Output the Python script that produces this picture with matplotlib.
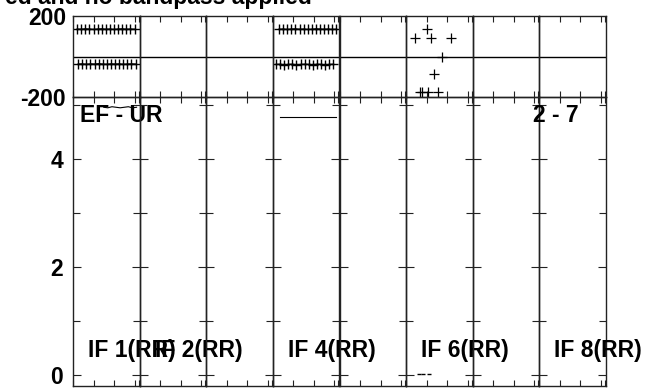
import matplotlib
matplotlib.use("Agg")
import matplotlib.pyplot as plt
from matplotlib.ticker import MultipleLocator

plt.rcParams['font.family'] = ['Liberation Sans', 'DejaVu Sans']
plt.rcParams['font.weight'] = 'bold'
plt.rcParams['axes.unicode_minus'] = False

W, H = 652, 389
n_if = 8
if_labels = ["IF 1(RR)", "IF 2(RR)", "", "IF 4(RR)", "", "IF 6(RR)", "", "IF 8(RR)"]

# phase data (degrees) per IF
ch_a = [4, 8, 12, 16, 20, 24, 28, 32, 36, 40, 44, 48, 52, 56, 60]
ch_b = [5, 9, 13, 17, 21, 25, 29, 33, 37, 41, 45, 49, 53, 57, 61]
ph_if1_top = [136, 135, 137, 136, 134, 136, 137, 135, 136, 134, 136, 137, 135, 136, 135]
ph_if1_bot = [-37, -36, -38, -36, -37, -35, -37, -38, -36, -37, -36, -38, -37, -36, -37]
ch_c = [6, 10, 14, 18, 22, 26, 30, 34, 38, 42, 46, 50, 54, 58, 62]
ch_d = [3, 7, 11, 15, 19, 23, 27, 31, 35, 39, 43, 47, 51, 55, 59]
ph_if4_top = [135, 136, 134, 136, 137, 135, 136, 134, 135, 137, 136, 135, 136, 134, 135]
ph_if4_bot = [-39, -38, -40, -39, -38, -40, -39, -38, -39, -40, -38, -39, -40, -39, -38]
ch_if6 = [20, 9, 24, 44, 35, 27, 14, 15, 21, 31]
ph_if6 = [138, 92, 92, 92, 0, -87, -176, -176, -176, -176]

# amplitude data
amp_if1_ch = [30, 34, 38, 42, 46, 50, 54, 58, 62]
amp_if1 = [4.96, 4.95, 4.97, 4.96, 4.95, 4.96, 4.97, 4.95, 4.96]
amp_if4_ch = [7, 14, 21, 28, 35, 42, 49, 56, 62]
amp_if4 = [4.78, 4.78, 4.78, 4.78, 4.78, 4.78, 4.78, 4.78, 4.78]
amp_if6_ch = [13, 16, 22]
amp_if6 = [0.02, 0.02, 0.02]

fig = plt.figure(figsize=(W / 100, H / 100), dpi=100)

left, right = 73, 606
pw = (right - left) / n_if
ph_top, ph_bot = 16, 97
am_top, am_bot = 97, 386
spine_col = '#222222'
fs = 16.5


def fx(px):
    return px / W


def fy(py):
    return 1 - py / H


for i in range(n_if):
    x0 = left + i * pw
    axp = fig.add_axes([fx(x0), fy(ph_bot), pw / W, (ph_bot - ph_top) / H])
    axa = fig.add_axes([fx(x0), fy(am_bot), pw / W, (am_bot - am_top) / H])
    for ax in (axp, axa):
        ax.patch.set_visible(False)
        ax.set_xlim(0, 65)
        ax.set_xticks([0, 20, 40, 60, 64])
        ax.tick_params(axis='x', direction='in', top=True, bottom=True,
                       length=4, width=0.8, labelbottom=False, color=spine_col)
        for s in ax.spines.values():
            s.set_color(spine_col)
            s.set_linewidth(1.0)
    axp.set_ylim(-200, 200)
    axp.axhline(0, color='black', lw=1.0)
    axp.set_yticks([-200, 200])
    axp.tick_params(axis='y', length=0, labelleft=(i == 0), pad=5, labelsize=fs)

    axa.set_ylim(-0.2, 5.15)
    axa.yaxis.set_major_locator(MultipleLocator(2))
    axa.yaxis.set_minor_locator(MultipleLocator(1))
    axa.tick_params(axis='y', which='major', direction='in', left=True, right=True,
                    length=6, width=0.8, labelleft=(i == 0), pad=7, labelsize=fs,
                    color=spine_col)
    axa.tick_params(axis='y', which='minor', direction='in', left=True, right=True,
                    length=5, width=0.8, color=spine_col)

    if if_labels[i]:
        axa.text(15 / pw, 0.1, if_labels[i], transform=axa.transAxes,
                 fontsize=fs, fontweight='bold', ha='left', va='baseline',
                 clip_on=False, zorder=5)

    if i == 0:
        axp.plot(ch_a, ph_if1_top, color='black', marker='+', ms=7, lw=0.8)
        axp.plot(ch_b, ph_if1_bot, color='black', marker='+', ms=7, lw=0.8)
        axa.plot(amp_if1_ch, amp_if1, color='black', lw=0.8)
        axa.text(7 / pw, 0.915, "EF - UR", transform=axa.transAxes,
                 fontsize=fs, fontweight='bold', ha='left', va='baseline', clip_on=False)
    if i == 3:
        axp.plot(ch_c, ph_if4_top, color='black', marker='+', ms=7, lw=0.8)
        axp.plot(ch_d, ph_if4_bot, color='black', marker='+', ms=7, lw=0.8)
        axa.plot(amp_if4_ch, amp_if4, color='black', lw=0.8)
    if i == 5:
        axp.plot(ch_if6, ph_if6, color='black', marker='+', ms=7, lw=0, mew=0.9)
        axa.plot(amp_if6_ch, amp_if6, color='black', marker='_', ms=3, lw=0)
    if i == 7:
        axa.text(-6 / pw, 0.915, "2 - 7", transform=axa.transAxes,
                 fontsize=fs, fontweight='bold', ha='left', va='baseline', clip_on=False)

fig.text(fx(312), fy(4), "ed and no bandpass applied", ha='right', va='baseline',
         fontsize=fs, fontweight='bold')

fig.savefig("out.png", dpi=100)
